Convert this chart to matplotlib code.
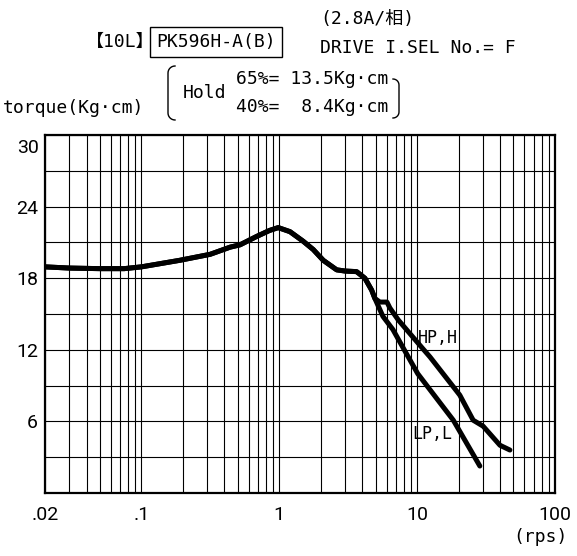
import numpy as np
import matplotlib
matplotlib.use("Agg")
import matplotlib.pyplot as plt

plt.rcParams['font.family'] = ['Roboto', 'DejaVu Sans', 'Noto Sans CJK JP']
MONO = ['DejaVu Sans Mono', 'Noto Sans CJK JP']

# torque curve (Kg·cm) vs speed (rps) -- shared part, then HP,H / LP,L branches
common_x = [0.02, 0.03, 0.05, 0.075, 0.1, 0.19, 0.315, 0.44, 0.52, 0.686, 0.85, 0.983, 1.196, 1.49, 1.765, 2.085, 2.61, 3.0, 3.64, 4.18, 4.68, 4.94]
common_y = [18.95, 18.85, 18.8, 18.8, 18.95, 19.5, 20.0, 20.6, 20.8, 21.5, 22.0, 22.24, 21.9, 21.1, 20.4, 19.5, 18.7, 18.6, 18.55, 18.0, 17.0, 16.3]
hp_x = [5.37, 6.04, 6.35, 7.30, 10.8, 12.4, 18.3, 20.4, 25.5, 30.1, 39.9, 47.1]
hp_y = [16.0, 16.0, 15.5, 14.5, 12.2, 11.4, 8.9, 8.2, 6.1, 5.6, 4.0, 3.6]
lp_x = [5.65, 6.67, 8.34, 10.1, 18.3, 28.5]
lp_y = [14.8, 13.7, 11.7, 10.0, 6.1, 2.26]

xticks = [0.02, 0.1, 1, 10, 100]
xticklabels = ['.02', '.1', '1', '10', '100']
yticks = [6, 12, 18, 24]

W, H = 577, 556
def fx(px): return px / W
def fy(py): return 1 - py / H

fig = plt.figure(figsize=(W / 100, H / 100), dpi=100)
ax = fig.add_axes([fx(45), fy(493), 510 / W, 358 / H])

hx = common_x + hp_x; hy = common_y + hp_y
lx = common_x + lp_x; ly = common_y + lp_y
ax.plot(hx, hy, color='black', lw=3.6, solid_capstyle='round', solid_joinstyle='round')
ax.plot(lx, ly, color='black', lw=3.6, solid_capstyle='round', solid_joinstyle='round')

ax.set_xscale('log')
ax.set_xlim(0.02, 100); ax.set_ylim(0, 30)
ax.set_xticks(xticks); ax.set_xticklabels(xticklabels)
ax.xaxis.set_minor_locator(matplotlib.ticker.LogLocator(base=10, subs=np.arange(2, 10)))
ax.xaxis.set_minor_formatter(matplotlib.ticker.NullFormatter())
ax.set_yticks(yticks)
ax.yaxis.set_minor_locator(matplotlib.ticker.MultipleLocator(3))
ax.tick_params(which='both', length=0, labelsize=14)
ax.tick_params(axis='x', pad=9)
ax.tick_params(axis='y', pad=5)
ax.grid(which='both', color='black', lw=0.8)
for s in ax.spines.values():
    s.set_linewidth(1.6)
ax.annotate('30', xy=(0, 30), xycoords=('axes fraction', 'data'), xytext=(-6, -13),
            textcoords='offset pixels', ha='right', va='center', fontsize=14)

ax.text(10.1, 13.0, 'HP,H', fontsize=12, va='center', ha='left', family=MONO)
ax.text(9.17, 4.95, 'LP,L', fontsize=12, va='center', ha='left', family=MONO)

# header
fig.text(fx(568), fy(537), '(rps)', fontsize=13, ha='right', va='center', family=MONO)
fig.text(fx(86), fy(42), '【10L】', fontsize=13, va='center', ha='left', family=MONO)
fig.text(fx(216), fy(42), 'PK596H-A(B)', fontsize=13, va='center', ha='center', family=MONO,
         bbox=dict(boxstyle='square,pad=0.35', fc='white', ec='black', lw=1.0))
fig.text(fx(320), fy(19), '(2.8A/相)', fontsize=13, va='center', ha='left', family=MONO)
fig.text(fx(320), fy(48), 'DRIVE I.SEL No.= F', fontsize=13, va='center', ha='left', family=MONO)
fig.text(fx(3), fy(108), 'torque(Kg·cm)', fontsize=13, va='center', ha='left', family=MONO)
fig.text(fx(183), fy(93), 'Hold', fontsize=13, va='center', ha='left', family=MONO)
fig.text(fx(236), fy(79), '65%= 13.5Kg·cm', fontsize=13, va='center', ha='left', family=MONO)
fig.text(fx(236), fy(107), '40%=  8.4Kg·cm', fontsize=13, va='center', ha='left', family=MONO)

# braces around the hold values
t = np.linspace(0, np.pi / 2, 8)
lb_x = list(175 - 7 * np.sin(t)) + list(168 + 7 * (1 - np.cos(t)))
lb_y = list(66 + 7 * (1 - np.cos(t))) + list(113 + 7 * np.sin(t))
fig.add_artist(plt.Line2D([fx(v) for v in lb_x], [fy(v) for v in lb_y], color='black', lw=1.0))
rb_x = list(393 + 6 * np.sin(t)) + list(399 - 6 * (1 - np.cos(t)))
rb_y = list(79 + 6 * (1 - np.cos(t))) + list(112 + 6 * np.sin(t))
fig.add_artist(plt.Line2D([fx(v) for v in rb_x], [fy(v) for v in rb_y], color='black', lw=1.0))

plt.savefig("out.png", dpi=100)
